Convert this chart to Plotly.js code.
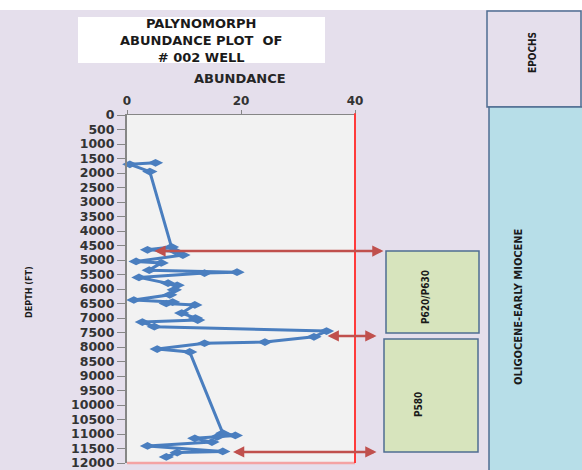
<!DOCTYPE html>
<html>
<head>
<meta charset="utf-8">
<script src="https://cdn.plot.ly/plotly-3.0.1.min.js"></script>
<style>html,body{margin:0;padding:0;background:#e5dfec;}#chart{width:582px;height:470px;}</style>
</head>
<body>
<div id="chart"></div>
<script>
// ---- data ----
const depthFt = [1650,1700,1950,4550,4650,4700,4830,5050,5100,5350,5420,5450,5600,5800,5870,6030,6200,6380,6450,6500,6550,6830,7000,7070,7140,7300,7450,7650,7830,7870,8070,8170,10970,11050,11100,11150,11280,11410,11600,11640,11790];
const abundance = [5,0.5,4,7.8,3.6,8.5,9.8,1.6,6,3.9,19.3,13.6,2.1,7.2,8.8,8.3,7.5,1.2,8,6.9,11.9,9.6,12,12.4,2.7,4.8,35,32.8,24.2,13.6,5.3,11,16.8,19,15.8,11.9,14.9,3.6,16.8,8.8,6.9];
const xTicks = [0,20,40];
const yTicks = [0,500,1000,1500,2000,2500,3000,3500,4000,4500,5000,5500,6000,6500,7000,7500,8000,8500,9000,9500,10000,10500,11000,11500,12000];
const zoneDepth = [4690, 7620, 11620];      // zone boundary arrows
const zoneArrowTip = [4.8, 35.2, 18.6];     // abundance where arrow tip sits
const zoneLabels = ["P620/P630", "P580"];
const epochLabel = "OLIGOCENE-EARLY MIOCENE";
const epochHeader = "EPOCHS";
const titleLines = ["PALYNOMORPH", "ABUNDANCE PLOT  OF", "# 002 WELL"];

// ---- layout helpers (pixel -> paper) ----
const L = 127, R = 355, T = 115, B = 463;
const px = x => (x - L) / (R - L);
const py = y => (B - y) / (B - T);
const pxToX = x => (x - L) / (R - L) * 40;

const lav = '#e5dfec', border = '#4f6d91';
const fontB = {family: 'DejaVu Sans, Verdana, sans-serif', weight: 'bold', color: '#262626'};
const fontC = {family: 'DejaVu Sans Condensed, Liberation Sans Narrow, DejaVu Sans, sans-serif', weight: 'bold', color: '#1a1a1a'};

const shapes = [
  {type:'rect', xref:'paper', yref:'paper', x0:px(0), x1:px(582), y0:py(10), y1:py(0), fillcolor:'#ffffff', line:{width:0}, layer:'below'},
  {type:'rect', xref:'paper', yref:'paper', x0:px(78), x1:px(325), y0:py(63), y1:py(17), fillcolor:'#ffffff', line:{width:0}},
  {type:'rect', xref:'paper', yref:'paper', x0:px(487), x1:px(581), y0:py(107), y1:py(11), fillcolor:lav, line:{color:border, width:1.5}},
  {type:'rect', xref:'paper', yref:'paper', x0:px(489), x1:px(584), y0:py(474), y1:py(107), fillcolor:'#b7dee8', line:{color:border, width:1.5}},
  {type:'rect', xref:'paper', yref:'paper', x0:px(386), x1:px(479), y0:py(333), y1:py(251), fillcolor:'#d7e4bd', line:{color:border, width:1.5}},
  {type:'rect', xref:'paper', yref:'paper', x0:px(384), x1:px(478), y0:py(452), y1:py(339), fillcolor:'#d7e4bd', line:{color:border, width:1.5}},
  {type:'line', xref:'paper', yref:'paper', x0:0, x1:1, y0:0, y1:0, line:{color:'#f4a3a3', width:2.5}},
  {type:'line', xref:'paper', yref:'paper', x0:1, x1:1, y0:0, y1:1.005, line:{color:'#ff3b3b', width:2}}
];

const annotations = [
  {xref:'paper', yref:'paper', x:px(201), y:py(40), text:'<b>'+titleLines.join('<br>')+'</b>', showarrow:false, font:Object.assign({}, fontB, {size:13, color:'#1a1a1a'}), xanchor:'center', yanchor:'middle'},
  {xref:'paper', yref:'paper', x:px(240), y:py(78), text:'<b>ABUNDANCE</b>', showarrow:false, font:Object.assign({}, fontB, {size:13}), xanchor:'center', yanchor:'middle'},
  {xref:'paper', yref:'paper', x:px(29), y:py(292), text:'<b>DEPTH (FT)</b>', textangle:-90, showarrow:false, font:Object.assign({}, fontC, {size:9}), xanchor:'center', yanchor:'middle'},
  {xref:'paper', yref:'paper', x:px(532), y:py(53), text:'<b>'+epochHeader+'</b>', textangle:-90, showarrow:false, font:Object.assign({}, fontC, {size:10}), xanchor:'center', yanchor:'middle'},
  {xref:'paper', yref:'paper', x:px(518), y:py(307), text:'<b>'+epochLabel+'</b>', textangle:-90, showarrow:false, font:Object.assign({}, fontC, {size:11}), xanchor:'center', yanchor:'middle'},
  {xref:'paper', yref:'paper', x:px(425), y:py(297), text:'<b>'+zoneLabels[0]+'</b>', textangle:-90, showarrow:false, font:Object.assign({}, fontC, {size:10}), xanchor:'center', yanchor:'middle'},
  {xref:'paper', yref:'paper', x:px(418), y:py(405), text:'<b>'+zoneLabels[1]+'</b>', textangle:-90, showarrow:false, font:Object.assign({}, fontC, {size:10}), xanchor:'center', yanchor:'middle'}
];
const arrowTailPx = [385, 378, 378];
zoneDepth.forEach((d, i) => {
  annotations.push({
    xref:'x', yref:'y', axref:'x', ayref:'y',
    x: zoneArrowTip[i], y: d, ax: pxToX(arrowTailPx[i]), ay: d,
    showarrow:true, arrowside:'end+start', arrowhead:2, startarrowhead:2,
    arrowsize:0.9, startarrowsize:0.9, arrowwidth:2.5, arrowcolor:'#c0504d', text:''
  });
});

const trace = {
  x: abundance, y: depthFt, type:'scatter', mode:'lines+markers',
  line:{color:'#4a7ebf', width:3},
  marker:{symbol:'diamond-wide', size:11, color:'#4a7ebf'},
  cliponaxis:false, hoverinfo:'skip'
};

const layout = {
  width:582, height:470,
  margin:{l:L, r:582-R, t:T, b:470-B, pad:0},
  paper_bgcolor:lav, plot_bgcolor:'#f2f2f2',
  showlegend:false,
  xaxis:{side:'top', range:[0,40], tickvals:xTicks, ticktext:xTicks.map(String), ticks:'outside', ticklen:4, tickcolor:'#868686',
         showline:true, linecolor:'#868686', linewidth:1.5, showgrid:false, zeroline:false, ticklabeloverflow:'allow',
         tickfont:Object.assign({}, fontB, {size:12, color:'#333333'})},
  yaxis:{range:[12000,0], tickvals:yTicks, ticktext:yTicks.map(String), ticks:'outside', ticklen:8, tickcolor:'#868686',
         showline:true, linecolor:'#868686', linewidth:2, showgrid:false, zeroline:false, ticklabeloverflow:'allow',
         tickfont:Object.assign({}, fontB, {size:12.5, color:'#333333'})},
  shapes, annotations
};

Plotly.newPlot('chart', [trace], layout, {staticPlot:true, displayModeBar:false});
</script>
</body>
</html>
